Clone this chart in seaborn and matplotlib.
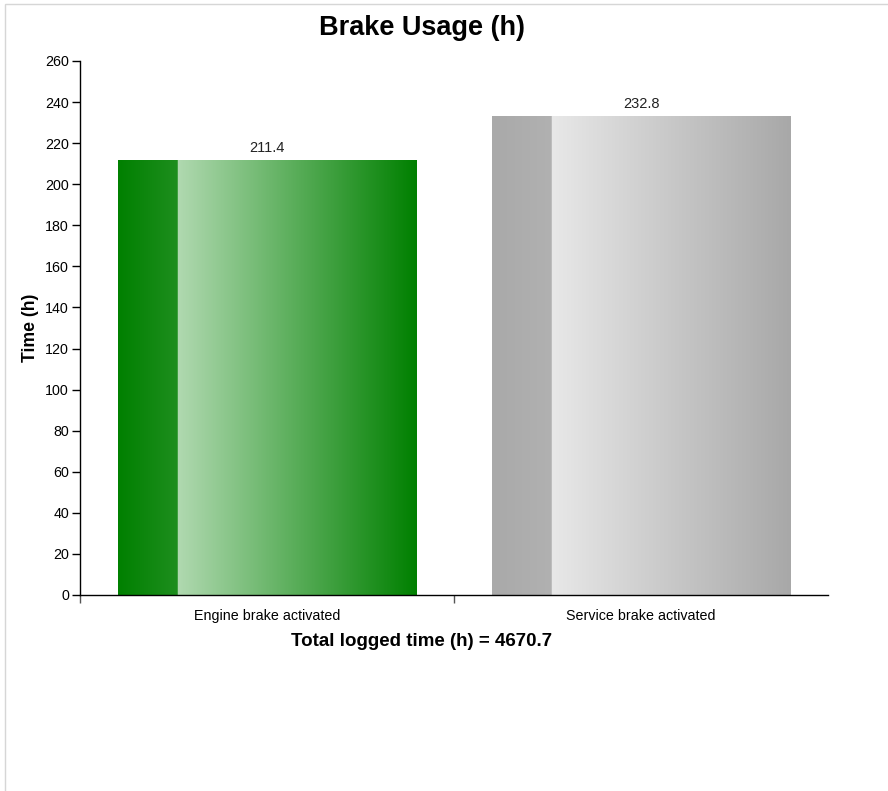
import numpy as np
import matplotlib
matplotlib.use("Agg")
import matplotlib.pyplot as plt
import matplotlib.colors as mcolors
from matplotlib.patches import Rectangle
import seaborn as sb
import pandas as pd

# Data
categories = ["Engine brake activated", "Service brake activated"]
hours = [211.4, 232.8]
total_hours = 4670.7

# gradient colours for each bar: (left strip start, left strip end, main start, main end)
bar_colours = [
    ("#008000", "#1e8e1e", "#b0d9b0", "#008000"),
    ("#a9a9a9", "#b1b1b1", "#e8e8e8", "#a8a8a8"),
]


def gradient_image(cols, n=400, split=0.2):
    c = [np.array(mcolors.to_rgb(x)) for x in cols]
    img = np.zeros((1, n, 3))
    for i in range(n):
        t = i / (n - 1)
        if t < split:
            u = t / split
            img[0, i] = c[0] * (1 - u) + c[1] * u
        else:
            u = (t - split) / (1 - split)
            img[0, i] = c[2] * (1 - u) + c[3] * u
    return img


sb.set_style("white")
plt.rcParams["font.family"] = ["Liberation Sans", "DejaVu Sans"]
plt.rcParams["text.color"] = "black"
plt.rcParams["axes.labelcolor"] = "black"
plt.rcParams["xtick.color"] = "black"
plt.rcParams["ytick.color"] = "black"

fig = plt.figure(figsize=(8.88, 7.91), dpi=100)
ax = fig.add_axes([80 / 888, 1 - 595 / 791, 748 / 888, 534 / 791])

df = pd.DataFrame({"cat": categories, "h": hours})
sb.barplot(data=df, x="cat", y="h", ax=ax, width=0.797, color="white", edgecolor="none")

# Remplace chaque barre par un dégradé
for patch, cols in zip(ax.patches, bar_colours):
    x0 = patch.get_x()
    w = patch.get_width()
    h = patch.get_height()
    ax.imshow(gradient_image(cols), extent=[x0, x0 + w, 0, h], aspect="auto",
              interpolation="bilinear", zorder=2)
    patch.set_facecolor("none")

# Valeurs au-dessus des barres
for patch in ax.patches:
    xc = patch.get_x() + patch.get_width() / 2
    ax.annotate(f"{patch.get_height():.1f}", (xc, patch.get_height()),
                xytext=(0, 4), textcoords="offset points", ha="center", va="bottom",
                fontsize=10.5, color="#222222")

ax.set_xlim(-0.5, 1.5)
ax.set_ylim(0, 260)
ax.set_yticks(np.arange(0, 261, 20))
ax.tick_params(axis="y", labelsize=10.3, length=6, width=1, color="black", pad=2, left=True)
ax.tick_params(axis="x", labelsize=10.3, length=0, pad=10)
ax.set_xticks([-0.5, 0.5], minor=True)
ax.tick_params(axis="x", which="minor", length=6, width=1, color="#555555", bottom=True)

for s in ["top", "right"]:
    ax.spines[s].set_visible(False)
for s in ["left", "bottom"]:
    ax.spines[s].set_color("black")
    ax.spines[s].set_linewidth(1)

ax.set_xlabel("")
ax.set_ylabel("")

fig.text(422 / 888, 1 - 28 / 791, "Brake Usage (h)", ha="center", va="center",
         fontsize=19.5, fontweight="bold")
fig.text(30 / 888, 1 - 328 / 791, "Time (h)", ha="center", va="center",
         rotation=90, fontsize=12.7, fontweight="bold")
fig.text(422 / 888, 1 - 641 / 791, f"Total logged time (h) = {total_hours}", ha="center",
         va="center", fontsize=13.5, fontweight="bold")

# bordure grise autour du graphique
fig.patches.append(Rectangle((5 / 888, -0.01), 1.0, 1 - 4 / 791 + 0.01, transform=fig.transFigure,
                             fill=False, edgecolor="#d6d6d6", linewidth=1))

fig.savefig("out.png", dpi=100)
